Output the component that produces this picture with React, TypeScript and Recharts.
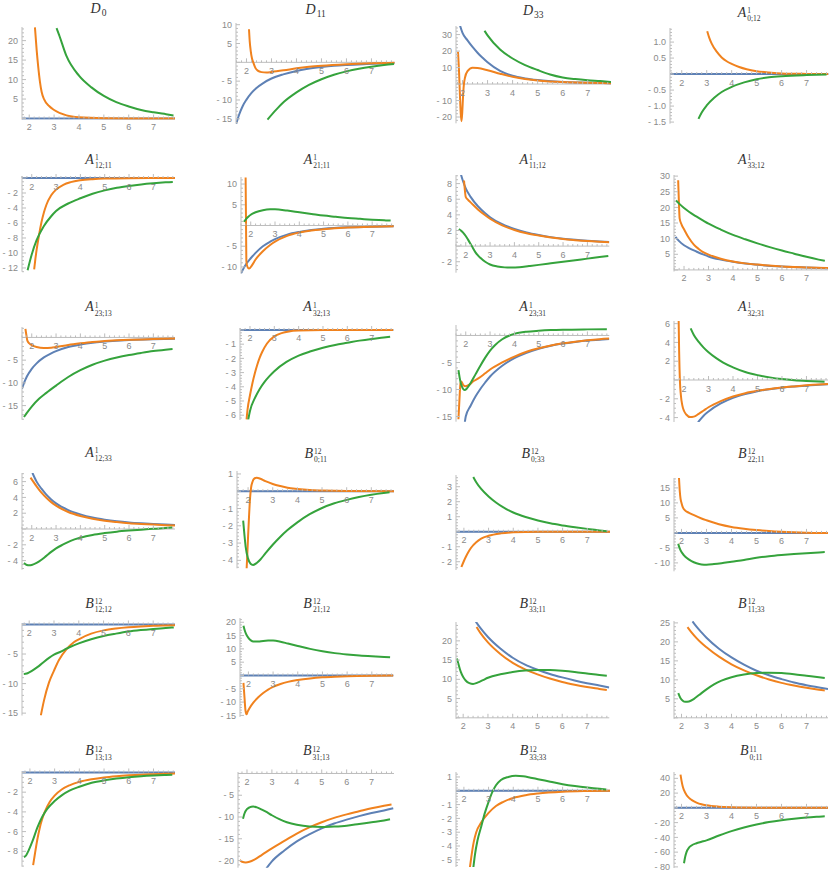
import React from "react";
import { LineChart, Line, XAxis, YAxis, ReferenceLine, ReferenceDot } from "recharts";

type Pt = [number, number];

const BLUE = "#5E81B5";
const ORANGE = "#F0821E";
const GREEN = "#35A33C";
const AXIS = "#bdbdbd";
const LABEL = "#8a8a8a";
const SANS = '"Liberation Sans", Arial, sans-serif';
const SERIF = '"Liberation Serif", "Times New Roman", serif';

const X_MAJOR = [2, 3, 4, 5, 6, 7];

// blue vanishes identically in many of the panels
const zeroLine: Pt[] = [[1.4, 0], [8, 0]];

// D_0
const d0Orange: Pt[] = [[2.23, 23.4], [2.3, 17.5], [2.36, 13.4], [2.43, 9.5], [2.5, 6.8], [2.6, 4.9], [2.8, 3.2], [3, 2.2], [3.5, 0.8], [4, 0.3], [5, 0.05], [6, 0], [7.9, 0]];
const d0Green: Pt[] = [[3.1, 23.2], [3.2, 21.5], [3.5, 16], [4, 11], [4.5, 8], [5, 5.8], [5.5, 4.2], [6, 3.1], [6.5, 2.2], [7, 1.6], [7.5, 1.1], [7.8, 0.8]];

// D_11
const d11Blue: Pt[] = [[1.57, -16.8], [1.7, -14], [1.85, -11.6], [2, -9.9], [2.2, -8.1], [2.4, -6.8], [2.67, -5.5], [3, -4.3], [3.47, -3.2], [4, -2.3], [4.4, -1.8], [5, -1.25], [5.5, -0.9], [6, -0.68], [6.8, -0.45], [7.93, -0.22]];
const d11Orange: Pt[] = [[2.1, 8.8], [2.13, 5.5], [2.17, 3], [2.22, 1], [2.27, 0], [2.35, -1.4], [2.45, -2.2], [2.6, -2.6], [2.8, -2.7], [3, -2.55], [3.5, -2.1], [4, -1.6], [4.5, -1.2], [5, -0.9], [6, -0.5], [7, -0.25], [7.93, -0.12]];
const d11Green: Pt[] = [[2.84, -15.2], [3.2, -12.5], [3.5, -10.5], [4, -8], [4.5, -6], [5, -4.5], [5.5, -3.3], [6, -2.4], [6.5, -1.7], [7, -1.15], [7.5, -0.7], [7.9, -0.45]];

// D_33
const d33Blue: Pt[] = [[1.9, 35.5], [2, 31], [2.2, 26.5], [2.4, 22.5], [2.6, 19], [2.8, 16], [3, 13.2], [3.5, 8], [4, 5], [4.5, 3.4], [5, 2.4], [6, 1.3], [7, 0.85], [7.93, 0.55]];
const d33Orange: Pt[] = [[1.82, 19.6], [1.86, 8], [1.9, -8], [1.93, -18], [1.96, -22.5], [1.99, -17], [2.02, -8], [2.05, -1], [2.1, 4], [2.2, 7.8], [2.4, 9.9], [2.6, 9.7], [3, 8.4], [3.5, 6.3], [4, 4.4], [4.5, 3], [5, 2.2], [6, 1.2], [7, 0.75], [7.93, 0.5]];
const d33Green: Pt[] = [[2.88, 32.3], [3, 29.5], [3.5, 21], [4, 15.5], [4.5, 11.5], [5, 8.5], [5.5, 5.8], [6, 4], [6.5, 3], [7, 2.3], [7.5, 1.8], [7.93, 1.3]];

// A^1_{0;12}
const a012Orange: Pt[] = [[3.02, 1.34], [3.1, 1.14], [3.2, 0.95], [3.4, 0.7], [3.6, 0.52], [3.8, 0.4], [4, 0.32], [4.3, 0.22], [4.6, 0.15], [5, 0.09], [5.5, 0.05], [6, 0.02], [7, 0.005], [7.87, 0]];
const a012Green: Pt[] = [[2.67, -1.4], [2.8, -1.2], [3, -0.98], [3.3, -0.74], [3.6, -0.56], [4, -0.4], [4.5, -0.26], [5, -0.16], [5.5, -0.1], [6, -0.065], [7, -0.03], [7.8, -0.015]];

// A^1_{12;11}
const a1211Orange: Pt[] = [[2.1, -12.2], [2.15, -10.8], [2.2, -9.6], [2.3, -7.6], [2.4, -5.9], [2.5, -4.6], [2.6, -3.6], [2.8, -2.3], [3, -1.55], [3.3, -0.9], [3.6, -0.55], [4, -0.3], [4.5, -0.15], [5, -0.07], [6, -0.02], [7.89, 0]];
const a1211Green: Pt[] = [[1.83, -12.3], [2, -10.2], [2.2, -8.3], [2.5, -6.4], [2.8, -5.1], [3, -4.4], [3.5, -3.4], [4, -2.7], [4.5, -2.1], [5, -1.65], [5.5, -1.3], [6, -1.05], [6.5, -0.85], [7, -0.7], [7.5, -0.58], [7.8, -0.52]];

// A^1_{21;11}
const a2111Blue: Pt[] = [[1.6, -11.6], [1.7, -10.4], [1.8, -9.4], [2, -7.9], [2.2, -6.6], [2.5, -5], [2.8, -3.9], [3, -3.3], [3.5, -2.2], [4, -1.55], [4.5, -1.1], [5, -0.8], [6, -0.45], [7, -0.28], [7.89, -0.2]];
const a2111Orange: Pt[] = [[1.79, 11.6], [1.8, 5], [1.81, -2], [1.82, -8.5], [1.85, -9.7], [1.93, -10.4], [2.05, -9.6], [2.2, -8.2], [2.5, -6.2], [2.8, -4.7], [3, -3.9], [3.5, -2.5], [4, -1.7], [4.5, -1.2], [5, -0.9], [6, -0.5], [7, -0.3], [7.89, -0.2]];
const a2111Green: Pt[] = [[1.72, 0.9], [1.8, 1.5], [1.9, 2.1], [2, 2.6], [2.2, 3.2], [2.5, 3.7], [2.8, 3.9], [3, 3.9], [3.5, 3.6], [4, 3.2], [4.5, 2.8], [5, 2.4], [5.5, 2.1], [6, 1.8], [6.5, 1.6], [7, 1.4], [7.5, 1.25], [7.76, 1.2]];

// A^1_{11;12}
const a1112Blue: Pt[] = [[1.8, 9.2], [1.9, 8.2], [2, 7.4], [2.2, 6.3], [2.5, 5.1], [2.8, 4.2], [3, 3.7], [3.5, 2.8], [4, 2.2], [4.5, 1.75], [5, 1.42], [5.5, 1.15], [6, 0.95], [6.5, 0.8], [7, 0.68], [7.5, 0.58], [7.9, 0.52]];
const a1112Orange: Pt[] = [[1.93, 8.4], [1.96, 7.3], [2, 6.3], [2.1, 5.9], [2.2, 5.6], [2.5, 4.7], [2.8, 3.95], [3, 3.5], [3.5, 2.65], [4, 2.07], [4.5, 1.65], [5, 1.35], [5.5, 1.1], [6, 0.9], [6.5, 0.76], [7, 0.64], [7.5, 0.55], [7.9, 0.49]];
const a1112Green: Pt[] = [[1.72, 2.2], [1.8, 2], [1.9, 1.7], [2, 1.3], [2.1, 0.8], [2.25, 0], [2.4, -0.8], [2.6, -1.5], [2.8, -2], [3, -2.35], [3.3, -2.6], [3.6, -2.72], [3.9, -2.75], [4.2, -2.7], [4.6, -2.55], [5, -2.4], [5.5, -2.2], [6, -2], [6.5, -1.8], [7, -1.6], [7.5, -1.4], [7.86, -1.25]];

// A^1_{33;12}
const a3312Blue: Pt[] = [[1.65, 10.6], [1.8, 9.2], [2, 7.9], [2.2, 7], [2.5, 5.9], [2.8, 4.9], [3, 4.3], [3.5, 3.3], [4, 2.6], [4.5, 2.05], [5, 1.65], [6, 1.1], [7, 0.75], [7.88, 0.55]];
const a3312Orange: Pt[] = [[1.76, 28.7], [1.78, 24], [1.8, 19.5], [1.82, 16.5], [1.9, 14.5], [2, 13], [2.2, 10.2], [2.4, 8.1], [2.6, 6.7], [2.8, 5.6], [3, 4.9], [3.5, 3.6], [4, 2.7], [4.5, 2.1], [5, 1.7], [6, 1.1], [7, 0.8], [7.88, 0.6]];
const a3312Green: Pt[] = [[1.67, 22.2], [1.8, 21.2], [2, 19.8], [2.2, 18.6], [2.5, 17.1], [2.8, 15.7], [3, 14.8], [3.5, 12.9], [4, 11.2], [4.5, 9.8], [5, 8.5], [5.5, 7.3], [6, 6.2], [6.5, 5.2], [7, 4.2], [7.5, 3.3], [7.75, 2.9]];

// A^1_{23;13}
const a2313Blue: Pt[] = [[1.6, -11.3], [1.7, -9.8], [1.8, -8.6], [2, -6.9], [2.2, -5.7], [2.5, -4.4], [2.8, -3.5], [3, -3], [3.5, -2.1], [4, -1.55], [4.5, -1.15], [5, -0.9], [6, -0.55], [7, -0.38], [7.89, -0.3]];
const a2313Orange: Pt[] = [[1.74, 1.9], [1.78, 0.5], [1.82, -0.7], [1.9, -1.3], [2, -1.7], [2.2, -2.1], [2.5, -2.3], [2.8, -2.25], [3, -2.1], [3.5, -1.65], [4, -1.3], [4.5, -1], [5, -0.8], [6, -0.5], [7, -0.35], [7.89, -0.25]];
const a2313Green: Pt[] = [[1.68, -17.5], [1.8, -16.6], [2, -15.2], [2.3, -13.5], [2.6, -12.2], [3, -10.6], [3.5, -8.7], [4, -7.2], [4.5, -6], [5, -5.1], [5.5, -4.4], [6, -3.85], [6.5, -3.4], [7, -3], [7.5, -2.7], [7.79, -2.55]];

// A^1_{32;13}
const a3213Orange: Pt[] = [[1.86, -6.3], [1.9, -5.6], [2, -4.6], [2.1, -3.75], [2.2, -3.05], [2.3, -2.45], [2.4, -1.95], [2.5, -1.55], [2.7, -0.95], [3, -0.45], [3.3, -0.22], [3.6, -0.1], [4, -0.04], [5, 0], [7.89, 0]];
const a3213Green: Pt[] = [[1.93, -6.3], [2, -5.7], [2.2, -4.8], [2.4, -4.15], [2.6, -3.65], [2.8, -3.25], [3, -2.9], [3.5, -2.25], [4, -1.8], [4.5, -1.5], [5, -1.25], [5.5, -1.05], [6, -0.9], [6.5, -0.75], [7, -0.63], [7.5, -0.53], [7.76, -0.47]];

// A^1_{23;31}
const a2331Blue: Pt[] = [[1.95, -16.5], [2, -15], [2.2, -13], [2.4, -11.3], [2.6, -9.9], [2.8, -8.7], [3, -7.6], [3.5, -5.6], [4, -4.2], [4.5, -3.2], [5, -2.45], [5.5, -1.9], [6, -1.5], [6.5, -1.2], [7, -0.95], [7.5, -0.78], [7.9, -0.65]];
const a2331Orange: Pt[] = [[1.7, -15.5], [1.74, -12], [1.78, -9], [1.82, -8.5], [1.9, -9.2], [2, -9.4], [2.15, -9.1], [2.3, -8.5], [2.5, -8], [2.8, -7], [3, -6.3], [3.5, -5], [4, -3.9], [4.5, -3], [5, -2.35], [5.5, -1.85], [6, -1.45], [6.5, -1.15], [7, -0.9], [7.5, -0.7], [7.9, -0.58]];
const a2331Green: Pt[] = [[1.7, -6.4], [1.75, -7.8], [1.8, -8.9], [1.88, -9.8], [1.95, -10.1], [2.05, -9.8], [2.2, -8.8], [2.4, -7.2], [2.6, -5.6], [2.8, -4.1], [3, -2.8], [3.2, -1.8], [3.5, -0.7], [3.8, 0], [4, 0.3], [4.5, 0.7], [5, 0.88], [5.5, 1], [6, 1.07], [7, 1.13], [7.8, 1.15]];

// A^1_{32;31}
const a3231Blue: Pt[] = [[2.57, -4.5], [2.8, -3.8], [3, -3.35], [3.5, -2.5], [4, -1.9], [4.5, -1.5], [5, -1.2], [5.5, -0.98], [6, -0.82], [6.5, -0.7], [7, -0.6], [7.5, -0.5], [7.88, -0.45]];
const a3231Orange: Pt[] = [[1.78, 6.3], [1.8, 3], [1.83, 0], [1.87, -1.6], [1.93, -2.7], [2, -3.3], [2.1, -3.7], [2.25, -3.95], [2.4, -3.9], [2.6, -3.6], [2.8, -3.25], [3, -2.9], [3.5, -2.25], [4, -1.75], [4.5, -1.4], [5, -1.15], [5.5, -0.95], [6, -0.8], [6.5, -0.68], [7, -0.57], [7.5, -0.48], [7.88, -0.43]];
const a3231Green: Pt[] = [[2.27, 5.5], [2.4, 4.8], [2.6, 4.05], [2.8, 3.45], [3, 2.95], [3.3, 2.35], [3.6, 1.85], [4, 1.35], [4.5, 0.85], [5, 0.52], [5.5, 0.28], [6, 0.1], [6.5, -0.02], [7, -0.1], [7.5, -0.16], [7.74, -0.18]];

// A^1_{12;33}
const a1233Blue: Pt[] = [[2.03, 7.1], [2.2, 6], [2.4, 5.1], [2.6, 4.35], [2.8, 3.75], [3, 3.25], [3.5, 2.4], [4, 1.85], [4.5, 1.45], [5, 1.18], [5.5, 0.98], [6, 0.83], [6.5, 0.72], [7, 0.63], [7.5, 0.56], [7.89, 0.52]];
const a1233Orange: Pt[] = [[1.95, 6.5], [2.2, 5.4], [2.4, 4.6], [2.6, 3.95], [2.8, 3.4], [3, 2.95], [3.5, 2.15], [4, 1.65], [4.5, 1.3], [5, 1.05], [5.5, 0.88], [6, 0.74], [6.5, 0.64], [7, 0.56], [7.5, 0.49], [7.89, 0.45]];
const a1233Green: Pt[] = [[1.68, -4.3], [1.8, -4.55], [1.9, -4.6], [2, -4.55], [2.2, -4.3], [2.4, -3.9], [2.6, -3.4], [2.8, -2.9], [3, -2.45], [3.3, -1.95], [3.6, -1.5], [4, -1.1], [4.5, -0.75], [5, -0.52], [5.5, -0.34], [6, -0.2], [6.5, -0.08], [7, 0.02], [7.5, 0.12], [7.78, 0.18]];

// B^12_{0;11}
const b12011Orange: Pt[] = [[1.94, -4.5], [1.97, -3.6], [2, -2.6], [2.04, -1.4], [2.08, -0.4], [2.12, 0.2], [2.18, 0.55], [2.25, 0.73], [2.35, 0.78], [2.5, 0.72], [2.7, 0.58], [3, 0.42], [3.3, 0.3], [3.6, 0.2], [4, 0.13], [4.5, 0.07], [5, 0.04], [6, 0.01], [7.92, 0]];
const b12011Green: Pt[] = [[1.8, -1.7], [1.85, -2.5], [1.9, -3.2], [2, -3.9], [2.1, -4.2], [2.2, -4.27], [2.35, -4.15], [2.5, -3.95], [2.7, -3.6], [3, -3.1], [3.3, -2.65], [3.6, -2.25], [4, -1.8], [4.5, -1.33], [5, -0.97], [5.5, -0.7], [6, -0.5], [6.5, -0.33], [7, -0.2], [7.5, -0.1], [7.74, -0.06]];

// B^12_{0;33}
const b12033Orange: Pt[] = [[1.9, -2.35], [2, -1.95], [2.1, -1.6], [2.2, -1.3], [2.3, -1.05], [2.5, -0.7], [2.7, -0.46], [3, -0.27], [3.5, -0.11], [4, -0.04], [5, 0], [7.92, 0]];
const b12033Green: Pt[] = [[2.38, 3.65], [2.5, 3.3], [2.7, 2.85], [3, 2.35], [3.3, 1.95], [3.6, 1.62], [4, 1.28], [4.5, 0.98], [5, 0.75], [5.5, 0.56], [6, 0.42], [6.5, 0.3], [7, 0.19], [7.5, 0.09], [7.8, 0.03]];

// B^12_{22;11}
const b122211Orange: Pt[] = [[1.9, 18.3], [1.93, 14], [1.96, 11.5], [2, 10], [2.05, 8.6], [2.13, 7.6], [2.3, 6.7], [2.5, 5.9], [2.8, 4.8], [3, 4.2], [3.5, 2.9], [4, 2], [4.5, 1.4], [5, 0.95], [5.5, 0.6], [6, 0.35], [6.5, 0.18], [7, 0.05], [7.5, -0.02], [7.86, -0.05]];
const b122211Green: Pt[] = [[1.87, -3.6], [1.9, -4.5], [1.95, -5.6], [2, -6.4], [2.1, -7.5], [2.2, -8.3], [2.4, -9.4], [2.6, -10.1], [2.8, -10.5], [3, -10.6], [3.3, -10.4], [3.6, -10.1], [4, -9.6], [4.5, -9], [5, -8.3], [5.5, -7.8], [6, -7.4], [6.5, -7.05], [7, -6.75], [7.5, -6.5], [7.73, -6.4]];

// B^12_{12;12}
const b121212Orange: Pt[] = [[2.47, -15.4], [2.6, -12.8], [2.8, -9.8], [3, -7.8], [3.2, -6], [3.5, -4.2], [3.8, -3], [4, -2.5], [4.5, -1.55], [5, -1], [5.5, -0.68], [6, -0.47], [6.5, -0.33], [7, -0.23], [7.5, -0.17], [7.88, -0.13]];
const b121212Green: Pt[] = [[1.78, -8.4], [1.9, -8.3], [2, -8.1], [2.2, -7.6], [2.4, -7], [2.6, -6.3], [2.8, -5.65], [3, -5.1], [3.3, -4.55], [3.5, -4.1], [3.6, -3.9], [4, -3.2], [4.5, -2.5], [5, -1.95], [5.5, -1.55], [6, -1.2], [6.5, -0.95], [7, -0.75], [7.5, -0.58], [7.83, -0.5]];

// B^12_{21;12}
const b122112Orange: Pt[] = [[1.8, -2.8], [1.84, -8], [1.88, -13], [1.92, -14.6], [1.97, -13.6], [2.05, -12.2], [2.2, -10.2], [2.4, -8.2], [2.6, -6.6], [2.8, -5.3], [3, -4.3], [3.3, -3.2], [3.6, -2.4], [4, -1.7], [4.5, -1.1], [5, -0.7], [5.5, -0.45], [6, -0.28], [7, -0.1], [7.87, -0.03]];
const b122112Green: Pt[] = [[1.8, 18.7], [1.85, 17], [1.9, 15.7], [2, 14.1], [2.1, 13.2], [2.2, 12.8], [2.4, 12.75], [2.6, 13], [2.8, 13.1], [3, 13.1], [3.3, 12.7], [3.6, 12], [4, 11.1], [4.5, 10], [5, 9.1], [5.5, 8.4], [6, 7.9], [6.5, 7.5], [7, 7.2], [7.5, 6.95], [7.74, 6.85]];

// B^12_{33;11}
const b123311Blue: Pt[] = [[2.51, 25], [2.7, 23.3], [3, 21], [3.5, 18], [4, 15.6], [4.5, 13.8], [5, 12.5], [5.5, 11.4], [6, 10.5], [6.5, 9.7], [7, 9], [7.5, 8.4], [7.9, 7.9]];
const b123311Orange: Pt[] = [[2.54, 23.6], [2.7, 22], [3, 19.6], [3.5, 16.6], [4, 14.3], [4.5, 12.6], [5, 11.3], [5.5, 10.2], [6, 9.3], [6.5, 8.6], [7, 8], [7.5, 7.5], [7.8, 7.2]];
const b123311Green: Pt[] = [[1.75, 15.4], [1.8, 14.2], [1.9, 12], [2, 10.6], [2.1, 9.7], [2.25, 9], [2.4, 8.8], [2.6, 9.2], [2.8, 9.8], [3, 10.4], [3.5, 11.3], [4, 11.9], [4.5, 12.3], [5, 12.45], [5.5, 12.4], [6, 12.2], [6.5, 11.9], [7, 11.5], [7.5, 11.1], [7.8, 10.9]];

// B^12_{11;33}
const b121133Blue: Pt[] = [[2.44, 25.4], [2.6, 24], [2.8, 22.5], [3, 21.1], [3.5, 18.2], [4, 15.9], [4.5, 14], [5, 12.4], [5.5, 11.2], [6, 10.2], [6.5, 9.3], [7, 8.6], [7.5, 8], [7.86, 7.6]];
const b121133Orange: Pt[] = [[2.24, 23.9], [2.4, 22.5], [2.6, 21], [2.8, 19.7], [3, 18.6], [3.5, 16.1], [4, 14.1], [4.5, 12.5], [5, 11.2], [5.5, 10.1], [6, 9.2], [6.5, 8.5], [7, 7.9], [7.5, 7.4], [7.73, 7.2]];
const b121133Green: Pt[] = [[1.87, 6.5], [1.95, 5.3], [2.05, 4.5], [2.15, 4.2], [2.3, 4.3], [2.5, 5], [2.7, 6], [3, 7.5], [3.3, 8.8], [3.6, 9.8], [4, 10.7], [4.5, 11.4], [5, 11.8], [5.5, 11.9], [6, 11.8], [6.5, 11.5], [7, 11.1], [7.5, 10.7], [7.73, 10.5]];

// B^12_{13;13}
const b121313Orange: Pt[] = [[2.13, -9.4], [2.2, -8.3], [2.3, -6.8], [2.4, -5.6], [2.5, -4.7], [2.6, -4], [2.8, -3], [3, -2.35], [3.3, -1.7], [3.6, -1.3], [4, -0.95], [4.5, -0.68], [5, -0.5], [5.5, -0.38], [6, -0.29], [6.5, -0.22], [7, -0.17], [7.5, -0.13], [7.87, -0.11]];
const b121313Green: Pt[] = [[1.76, -8.6], [1.85, -8.4], [1.95, -7.9], [2.1, -7], [2.3, -5.6], [2.5, -4.5], [2.7, -3.7], [3, -2.9], [3.3, -2.3], [3.6, -1.85], [4, -1.45], [4.5, -1.05], [5, -0.8], [5.5, -0.62], [6, -0.48], [6.5, -0.38], [7, -0.31], [7.5, -0.26], [7.76, -0.24]];

// B^12_{31;13}
const b123113Blue: Pt[] = [[2.78, -21.8], [3, -20.2], [3.5, -17.7], [4, -15.6], [4.5, -14], [5, -12.6], [5.5, -11.5], [6, -10.6], [6.5, -9.8], [7, -9.1], [7.5, -8.5], [7.87, -8]];
const b123113Orange: Pt[] = [[1.71, -19.9], [1.8, -20.3], [1.95, -20.45], [2.1, -20.3], [2.3, -19.8], [2.6, -18.7], [3, -17.2], [3.5, -15.5], [4, -13.8], [4.5, -12.4], [5, -11.2], [5.5, -10.2], [6, -9.4], [6.5, -8.7], [7, -8], [7.5, -7.4], [7.8, -7.1]];
const b123113Green: Pt[] = [[1.84, -10.4], [1.9, -9.2], [2, -8.2], [2.1, -7.8], [2.25, -7.6], [2.4, -7.8], [2.6, -8.3], [2.8, -8.9], [3, -9.6], [3.3, -10.5], [3.6, -11.2], [4, -11.8], [4.5, -12.2], [5, -12.3], [5.5, -12.2], [6, -12], [6.5, -11.6], [7, -11.2], [7.5, -10.8], [7.74, -10.5]];

// B^12_{33;33}
const b123333Orange: Pt[] = [[2.24, -5.6], [2.3, -4.8], [2.4, -3.7], [2.5, -3], [2.7, -2.3], [3, -1.6], [3.3, -1.1], [3.6, -0.8], [4, -0.52], [4.5, -0.32], [5, -0.2], [6, -0.07], [7, -0.02], [7.92, 0]];
const b123333Green: Pt[] = [[2.38, -5.6], [2.45, -4.6], [2.55, -3.6], [2.7, -2.6], [2.85, -1.6], [3, -0.8], [3.15, -0.1], [3.3, 0.4], [3.5, 0.78], [3.8, 1], [4.1, 1.08], [4.4, 1.05], [4.7, 0.95], [5, 0.84], [5.5, 0.66], [6, 0.48], [6.5, 0.34], [7, 0.23], [7.5, 0.14], [7.77, 0.1]];

// B^11_{0;11}
const b11011Orange: Pt[] = [[1.96, 45], [2, 37], [2.05, 29], [2.1, 24], [2.2, 17.5], [2.3, 13.5], [2.4, 10.8], [2.6, 7.2], [2.8, 4.8], [3, 3.4], [3.5, 1.6], [4, 0.8], [5, 0.2], [6, 0.05], [7.86, 0]];
const b11011Green: Pt[] = [[2.1, -75], [2.15, -66], [2.2, -60], [2.3, -54], [2.4, -51], [2.6, -48], [2.8, -46], [3, -44], [3.5, -37.5], [4, -31.5], [4.5, -26.5], [5, -22.5], [5.5, -19.3], [6, -16.8], [6.5, -14.8], [7, -13.1], [7.5, -11.9], [7.73, -11.4]];

type Panel = {
  base: string;
  sup?: string;
  sub: string;
  rect: [number, number, number, number]; // plot area: left, top, right, bottom (page px)
  titleY: number;
  x: [number, number];
  y: [number, number];
  ticks: number[];
  dec?: number;
  blue: Pt[];
  orange: Pt[];
  green: Pt[];
};

const panels: Panel[] = [
  { base: "D", sub: "0", rect: [22, 27.3, 175, 120], titleY: 14, x: [1.71, 7.86], y: [-0.3, 23.5], ticks: [5, 10, 15, 20], blue: zeroLine, orange: d0Orange, green: d0Green },
  { base: "D", sub: "11", rect: [236.3, 23.3, 395, 124], titleY: 14.5, x: [1.58, 7.93], y: [-16.3, 10.45], ticks: [-15, -10, -5, 5, 10], blue: d11Blue, orange: d11Orange, green: d11Green },
  { base: "D", sub: "33", rect: [455.7, 26, 610.7, 123.3], titleY: 16, x: [1.74, 7.93], y: [-23.8, 35.2], ticks: [-20, -10, 10, 20, 30], blue: d33Blue, orange: d33Orange, green: d33Green },
  { base: "A", sup: "1", sub: "0;12", rect: [670, 28.3, 828.3, 124], titleY: 17.5, x: [1.53, 7.87], y: [-1.55, 1.44], ticks: [-1.5, -1, -0.5, 0.5, 1], dec: 1, blue: zeroLine, orange: a012Orange, green: a012Green },

  { base: "A", sup: "1", sub: "12;11", rect: [22, 176, 175, 271.7], titleY: 164.5, x: [1.6, 7.89], y: [-12.5, 0.27], ticks: [-12, -10, -8, -6, -4, -2], blue: zeroLine, orange: a1211Orange, green: a1211Green },
  { base: "A", sup: "1", sub: "21;11", rect: [240.5, 176.7, 393.3, 273.3], titleY: 164.5, x: [1.6, 7.89], y: [-11.6, 11.7], ticks: [-10, -5, 5, 10], blue: a2111Blue, orange: a2111Orange, green: a2111Green },
  { base: "A", sup: "1", sub: "11;12", rect: [456, 175, 609.3, 272.7], titleY: 164.5, x: [1.6, 7.9], y: [-3.4, 9.1], ticks: [-2, 2, 4, 6, 8], blue: a1112Blue, orange: a1112Orange, green: a1112Green },
  { base: "A", sup: "1", sub: "33;12", rect: [674.3, 175, 828.3, 271.5], titleY: 164.5, x: [1.59, 7.88], y: [-0.5, 30.35], ticks: [5, 10, 15, 20, 25, 30], blue: a3312Blue, orange: a3312Orange, green: a3312Green },

  { base: "A", sup: "1", sub: "23;13", rect: [22, 327.3, 175, 420], titleY: 312, x: [1.6, 7.89], y: [-18.1, 2.3], ticks: [-15, -10, -5], blue: a2313Blue, orange: a2313Orange, green: a2313Green },
  { base: "A", sup: "1", sub: "32;13", rect: [240, 328, 393.3, 420], titleY: 312, x: [1.59, 7.89], y: [-6.34, 0.14], ticks: [-6, -5, -4, -3, -2, -1], blue: zeroLine, orange: a3213Orange, green: a3213Green },
  { base: "A", sup: "1", sub: "23;31", rect: [456, 325, 609.3, 421.7], titleY: 312, x: [1.6, 7.9], y: [-15.96, 1.94], ticks: [-15, -10, -5], blue: a2331Blue, orange: a2331Orange, green: a2331Green },
  { base: "A", sup: "1", sub: "32;31", rect: [674.3, 320.7, 828.3, 421.7], titleY: 312, x: [1.59, 7.88], y: [-4.47, 6.28], ticks: [-4, -2, 2, 4, 6], blue: a3231Blue, orange: a3231Orange, green: a3231Green },

  { base: "A", sup: "1", sub: "12;33", rect: [22, 473.3, 175, 570], titleY: 457.5, x: [1.6, 7.89], y: [-5.15, 7.09], ticks: [-4, -2, 2, 4, 6], blue: a1233Blue, orange: a1233Orange, green: a1233Green },
  { base: "B", sup: "12", sub: "0;11", rect: [237.3, 471, 394.3, 568.3], titleY: 458.5, x: [1.55, 7.92], y: [-4.46, 1.17], ticks: [-4, -3, -2, -1, 1], blue: zeroLine, orange: b12011Orange, green: b12011Green },
  { base: "B", sup: "12", sub: "0;33", rect: [456, 475, 610, 570], titleY: 458.5, x: [1.68, 7.92], y: [-2.55, 3.78], ticks: [-2, -1, 1, 2, 3], blue: zeroLine, orange: b12033Orange, green: b12033Green },
  { base: "B", sup: "12", sub: "22;11", rect: [674.3, 477.7, 828.3, 571], titleY: 458.5, x: [1.7, 7.86], y: [-12.8, 18.3], ticks: [-10, -5, 5, 10, 15], blue: zeroLine, orange: b122211Orange, green: b122211Green },

  { base: "B", sup: "12", sub: "12;12", rect: [22, 622.5, 175, 715], titleY: 608.5, x: [1.71, 7.88], y: [-15.4, 0.25], ticks: [-15, -10, -5], blue: zeroLine, orange: b121212Orange, green: b121212Green },
  { base: "B", sup: "12", sub: "21;12", rect: [240, 618.3, 393.3, 717.3], titleY: 608.5, x: [1.66, 7.87], y: [-15.6, 21.6], ticks: [-15, -10, -5, 5, 10, 15, 20], blue: zeroLine, orange: b122112Orange, green: b122112Green },
  { base: "B", sup: "12", sub: "33;11", rect: [456, 621.7, 609.3, 718.5], titleY: 608.5, x: [1.71, 7.9], y: [-0.26, 24.9], ticks: [5, 10, 15, 20], blue: b123311Blue, orange: b123311Orange, green: b123311Green },
  { base: "B", sup: "12", sub: "11;33", rect: [674.3, 620.7, 828.3, 718.5], titleY: 608.5, x: [1.7, 7.86], y: [-0.26, 25.5], ticks: [5, 10, 15, 20, 25], blue: b121133Blue, orange: b121133Orange, green: b121133Green },

  { base: "B", sup: "12", sub: "13;13", rect: [22, 771, 175, 866.7], titleY: 756, x: [1.68, 7.87], y: [-9.56, 0.15], ticks: [-8, -6, -4, -2], blue: zeroLine, orange: b121313Orange, green: b121313Green },
  { base: "B", sup: "12", sub: "31;13", rect: [238.3, 772, 394.3, 867.7], titleY: 756, x: [1.64, 7.9], y: [-21.65, 0.34], ticks: [-20, -15, -10, -5], blue: b123113Blue, orange: b123113Orange, green: b123113Green },
  { base: "B", sup: "12", sub: "33;33", rect: [456, 771.7, 610, 866.7], titleY: 756, x: [1.68, 7.92], y: [-5.52, 1.36], ticks: [-5, -4, -3, -2, -1, 1], blue: zeroLine, orange: b123333Orange, green: b123333Green },
  { base: "B", sup: "11", sub: "0;11", rect: [674.3, 772.3, 828.3, 868.3], titleY: 756, x: [1.7, 7.86], y: [-81.5, 48.6], ticks: [-80, -60, -40, -20, 20, 40], blue: zeroLine, orange: b11011Orange, green: b11011Green },
];

const YW = 30;
const MT = 5;
const MR = 6;
const MB = 16;

const toRows = (pts: Pt[]) => pts.map(([x, y]) => ({ x, y }));

function minorStep(ticks: number[]) {
  const s = [...ticks].sort((a, b) => a - b);
  let step = Infinity;
  for (let i = 1; i < s.length; i++) step = Math.min(step, s[i] - s[i - 1]);
  const lead = Math.round(step / Math.pow(10, Math.floor(Math.log10(step))));
  return lead === 2 ? step / 4 : step / 5;
}

function range(lo: number, hi: number, step: number) {
  const out: number[] = [];
  for (let k = Math.ceil(lo / step - 1e-9); k * step <= hi + 1e-9; k++) out.push(+(k * step).toFixed(6));
  return out;
}

function fmt(v: number, dec = 0) {
  const s = Math.abs(v).toFixed(dec);
  return v < 0 ? "- " + s : s;
}

function Title({ p }: { p: Panel }) {
  const cx = (p.rect[0] + p.rect[2]) / 2;
  return (
    <div
      style={{
        position: "absolute", left: cx - 80, width: 160, top: p.titleY - 11.7,
        textAlign: "center", fontFamily: SERIF, fontSize: 14, fontWeight: 400,
        lineHeight: "14px", whiteSpace: "nowrap", color: "#333",
      }}
    >
      <span style={{ fontStyle: "italic", marginRight: 1 }}>{p.base}</span>
      {p.sup ? (
        <span
          style={{
            display: "inline-flex", flexDirection: "column", fontSize: 7.5,
            lineHeight: "8px", verticalAlign: 3.5, textAlign: "left",
          }}
        >
          <span>{p.sup}</span>
          <span>{p.sub}</span>
        </span>
      ) : (
        <span style={{ fontSize: 9.5, verticalAlign: -3 }}>{p.sub}</span>
      )}
    </div>
  );
}

function PanelChart({ p }: { p: Panel }) {
  const [left, top, right, bottom] = p.rect;
  const w = right - left;
  const h = bottom - top;
  const m = minorStep(p.ticks);
  const yTicks = range(p.y[0], p.y[1], m);
  const isMajor = (v: number) => p.ticks.some((t) => Math.abs(t - v) < m / 10);
  const xMinor = range(p.x[0], p.x[1], 0.2).filter((t) => Math.abs(t - Math.round(t)) > 1e-6);

  const yTick = (props: any) => {
    const { x, y, payload } = props;
    const v = payload.value;
    const major = isMajor(v);
    return (
      <g>
        <line x1={x} x2={x + (major || Math.abs(v) < 1e-9 ? 4 : 2)} y1={y} y2={y} stroke={AXIS} />
        {major && (
          <text x={x - 4} y={y} dy="0.35em" textAnchor="end" fontSize={9} fill={LABEL} fontFamily={SANS}>
            {fmt(v, p.dec)}
          </text>
        )}
      </g>
    );
  };

  return (
    <div style={{ position: "absolute", left: left - YW, top: top - MT }}>
      <LineChart width={w + YW + MR} height={h + MT + MB} margin={{ top: MT, right: MR, bottom: MB, left: 0 }}>
        <XAxis type="number" dataKey="x" domain={p.x} allowDataOverflow hide />
        <YAxis
          type="number" domain={p.y} allowDataOverflow width={YW} ticks={yTicks} interval={0}
          tick={yTick} tickLine={false} tickSize={0} tickMargin={0} axisLine={{ stroke: AXIS }}
        />
        <ReferenceLine y={0} stroke={AXIS} />
        {xMinor.map((t) => (
          <ReferenceDot
            key={"m" + t} x={t} y={0} r={0}
            shape={(d: any) => <line x1={d.cx} x2={d.cx} y1={d.cy} y2={d.cy - 2} stroke={AXIS} />}
          />
        ))}
        {X_MAJOR.map((t) => (
          <ReferenceDot
            key={"t" + t} x={t} y={0} r={0}
            shape={(d: any) => (
              <g>
                <line x1={d.cx} x2={d.cx} y1={d.cy} y2={d.cy - 4} stroke={AXIS} />
                <text x={d.cx} y={d.cy + 11.5} textAnchor="middle" fontSize={9} fill={LABEL} fontFamily={SANS}>
                  {t}
                </text>
              </g>
            )}
          />
        ))}
        <Line data={toRows(p.blue)} dataKey="y" type="monotone" stroke={BLUE} strokeWidth={2} dot={false} isAnimationActive={false} />
        <Line data={toRows(p.orange)} dataKey="y" type="monotone" stroke={ORANGE} strokeWidth={2} dot={false} isAnimationActive={false} />
        <Line data={toRows(p.green)} dataKey="y" type="monotone" stroke={GREEN} strokeWidth={2} dot={false} isAnimationActive={false} />
      </LineChart>
    </div>
  );
}

export default function App() {
  return (
    <div style={{ position: "absolute", left: 0, top: 0, width: 831, height: 876, background: "#fff", overflow: "hidden" }}>
      {panels.map((p, i) => (
        <React.Fragment key={i}>
          <PanelChart p={p} />
          <Title p={p} />
        </React.Fragment>
      ))}
    </div>
  );
}
